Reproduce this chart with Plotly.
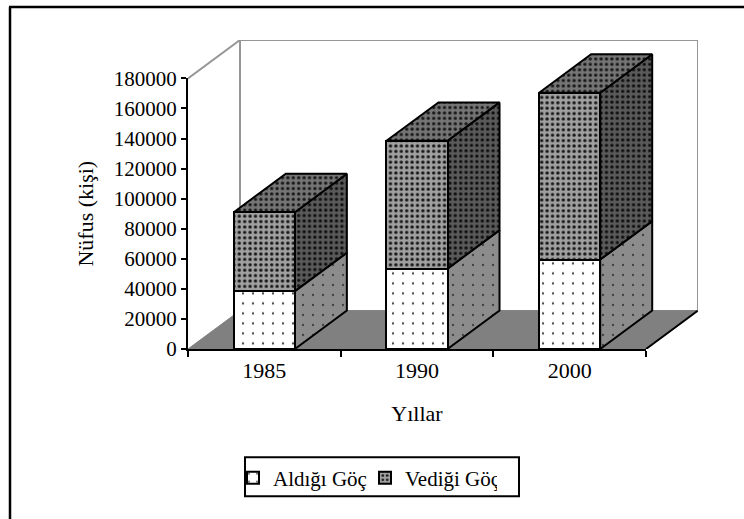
import plotly.graph_objects as go

categories = ["1985", "1990", "2000"]
aldigi = [38500, 53500, 59500]
verdigi = [52500, 85000, 111000]
y_ticks = [0, 20000, 40000, 60000, 80000, 100000, 120000, 140000, 160000, 180000]
axis_max = 180000

# canvas geometry (px)
W, H = 744, 519
L, R, T, B = 188, 698, 40, 349.5
AXIS_R, AXIS_T = 646, 78.5
cat_w = (AXIS_R - L) / 3
DX = (R - AXIS_R) / cat_w
DY = (AXIS_T - T) / (B - AXIS_T) * axis_max
HALF = 0.2
FONT = "Liberation Serif"
positions = list(range(len(categories)))


def pat(bg, fg, size, sol):
    return dict(shape=".", bgcolor=bg, fgcolor=fg, size=size, solidity=sol, fillmode="replace")


def poly(xs, ys, color=None, pattern=None, line="black", lw=2):
    kw = {}
    if pattern:
        kw["fillpattern"] = pattern
    return go.Scatter(
        x=xs + xs[:1], y=ys + ys[:1], mode="lines", fill="toself",
        fillcolor=color, line=dict(color=line, width=lw),
        showlegend=False, hoverinfo="skip", **kw)


fig = go.Figure()

x0, x1 = -0.5, len(categories) - 0.5
# floor
fig.add_trace(poly([x0, x1, x1 + DX, x0 + DX], [0, 0, DY, DY], color="#808080", line="#808080", lw=1))
fig.add_trace(go.Scatter(x=[x1, x1 + DX], y=[0, DY], mode="lines", line=dict(color="black", width=2),
                         showlegend=False, hoverinfo="skip"))
# walls
fig.add_trace(go.Scatter(
    x=[x0, x0 + DX, x0 + DX, None, x0 + DX, x1 + DX, x1 + DX],
    y=[axis_max, axis_max + DY, DY, None, axis_max + DY, axis_max + DY, DY],
    mode="lines", line=dict(color="#969696", width=2), showlegend=False, hoverinfo="skip"))

# bar sides and tops
for i, a, v in zip(positions, aldigi, verdigi):
    r = i + HALF
    l = i - HALF
    t = a + v
    fig.add_trace(poly([r, r + DX, r + DX, r], [0, DY, a + DY, a], pattern=pat("#8c8c8c", "#404040", 10, 0.04)))
    fig.add_trace(poly([r, r + DX, r + DX, r], [a, a + DY, t + DY, t], pattern=pat("#5a5a5a", "#101010", 5.4, 0.3)))
    fig.add_trace(poly([l, r, r + DX, l + DX], [t, t, t + DY, t + DY], pattern=pat("#757575", "#181818", 5.4, 0.3)))

# front faces with real axes
bar_line = dict(color="black", width=2)
fig.add_trace(go.Bar(
    x=positions, y=aldigi, name="Aldığı Göç", width=2 * HALF, xaxis="x2", yaxis="y2",
    marker=dict(color="white", line=bar_line, pattern=pat("white", "#444444", 10, 0.04))))
fig.add_trace(go.Bar(
    x=positions, y=verdigi, name="Vediği Göç", width=2 * HALF, xaxis="x2", yaxis="y2",
    marker=dict(color="#a0a0a0", line=bar_line, pattern=pat("#a0a0a0", "#181818", 5.4, 0.3))))

font = dict(family=FONT, size=21, color="black")
font_label = dict(family=FONT, size=22, color="black")
fx = lambda px: (px - L) / (R - L)
fy = lambda py: (B - py) / (B - T)
black = dict(color="black", width=2.5)
fig.update_layout(
    width=W, height=H, barmode="stack", paper_bgcolor="white", plot_bgcolor="rgba(0,0,0,0)",
    margin=dict(l=L, r=W - R, t=T, b=H - B, pad=0, autoexpand=False),
    font=font, showlegend=True,
    xaxis=dict(domain=[0, 1], range=[x0, x1 + DX], visible=False),
    yaxis=dict(domain=[0, 1], range=[0, axis_max + DY], visible=False),
    xaxis2=dict(domain=[0, (AXIS_R - L) / (R - L)], range=[x0, x1], anchor="y2",
                tickmode="array", tickvals=positions, ticktext=categories,
                ticks="", showgrid=False, zeroline=False, showline=True,
                linecolor="black", linewidth=2, tickfont=font_label, ticklabelstandoff=1,
                minor=dict(tickmode="array", tickvals=[x0 + k for k in range(len(categories) + 1)],
                           ticks="outside", ticklen=6, tickwidth=2, tickcolor="black", showgrid=False),
                title=dict(text="Yıllar", font=font_label, standoff=23)),
    yaxis2=dict(domain=[0, (B - AXIS_T) / (B - T)], range=[0, axis_max], anchor="x2",
                tickmode="array", tickvals=y_ticks, tickformat="d", tickfont=font,
                ticks="outside", ticklen=5, tickwidth=2, tickcolor="black", showgrid=False,
                zeroline=False, showline=True, linecolor="black", linewidth=2,
                title=dict(text="Nüfus (kişi)", font=font_label, standoff=14)),
    legend=dict(orientation="h", xref="container", yref="container", x=233 / W, xanchor="left",
                y=1 - 478 / H, yanchor="middle", borderwidth=0,
                bgcolor="rgba(0,0,0,0)", font=font, traceorder="normal", itemsizing="constant",
                entrywidth=87, entrywidthmode="pixels"),
    shapes=[
        dict(type="line", xref="paper", yref="paper", x0=fx(10), x1=fx(10), y0=fy(7), y1=fy(H + 5), line=black),
        dict(type="line", xref="paper", yref="paper", x0=fx(9), x1=fx(W + 5), y0=fy(7), y1=fy(7), line=black),
        dict(type="rect", xref="paper", yref="paper", x0=fx(245), x1=fx(519), y0=fy(458), y1=fy(497),
             line=dict(color="black", width=2), layer="below"),
    ],
)
fig.write_html("out.html", post_script="document.body.style.margin='0';", config={"displayModeBar": False})
